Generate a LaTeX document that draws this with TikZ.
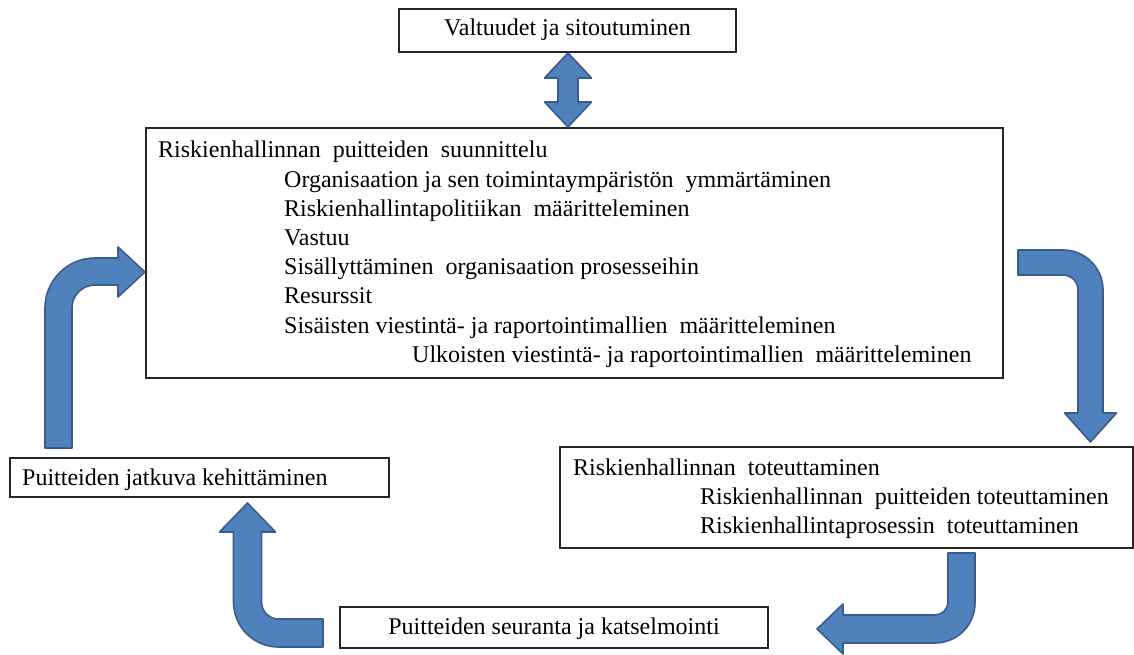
\documentclass[tikz,border=0pt]{standalone}
\usepackage{fontspec}
\setmainfont{Liberation Serif}
\begin{document}
\begin{tikzpicture}[x=1pt,y=1pt,
  box/.style={draw=black!85, line width=1.2pt, rectangle, inner sep=0pt},
  txt/.style={inner sep=0pt, anchor=base west, font=\fontsize{24}{29}\selectfont},
  ctxt/.style={inner sep=0pt, anchor=base, font=\fontsize{24}{29}\selectfont},
  blockarrow/.style={fill={rgb,255:red,79;green,129;blue,189}, draw={rgb,255:red,56;green,93;blue,138}, line width=1.6pt, line join=round}]
\useasboundingbox (0,0) rectangle (1134,655);

% boxes
\node[box, minimum width=337pt, minimum height=43pt] (auth) at (567.5,624.5) {};
\node[box, minimum width=857pt, minimum height=250pt] (design) at (574.5,402) {};
\node[box, minimum width=379pt, minimum height=39pt] (improve) at (199.5,177.5) {};
\node[box, minimum width=573pt, minimum height=101pt] (impl) at (846.5,157.5) {};
\node[box, minimum width=428pt, minimum height=41pt] (monitor) at (554,27.5) {};

% single-line labels
\node[ctxt] (authT) at (567.5,619) {Valtuudet ja sitoutuminen};
\node[txt] (improveT) at (22,169) {Puitteiden jatkuva kehittäminen};
\node[ctxt] (monitorT) at (554,20) {Puitteiden seuranta ja katselmointi};

% framework design
\node[txt] (d0) at (158,497) {Riskienhallinnan \ puitteiden \ suunnittelu};
\node[txt] (d1) at (284,467.8) {Organisaation ja sen toimintaympäristön \ ymmärtäminen};
\node[txt] (d2) at (284,438.6) {Riskienhallintapolitiikan \ määritteleminen};
\node[txt] (d3) at (284,409.4) {Vastuu};
\node[txt] (d4) at (284,380.2) {Sisällyttäminen \ organisaation prosesseihin};
\node[txt] (d5) at (284,351) {Resurssit};
\node[txt] (d6) at (284,321.8) {Sisäisten viestintä- ja raportointimallien \ määritteleminen};
\node[txt] (d7) at (412,292.6) {Ulkoisten viestintä- ja raportointimallien \ määritteleminen};

% implementation
\node[txt] (i0) at (573,179) {Riskienhallinnan \ toteuttaminen};
\node[txt] (i1) at (700,150) {Riskienhallinnan \ puitteiden toteuttaminen};
\node[txt] (i2) at (700,121) {Riskienhallintaprosessin \ toteuttaminen};

% double arrow between mandate and design
\draw[blockarrow] (568,602) -- (591.5,577) -- (578,577) -- (578,553) -- (591.5,553)
  -- (568,528) -- (544.5,553) -- (558,553) -- (558,577) -- (544.5,577) -- cycle;

% improvement -> design
\draw[blockarrow] (45,207) -- (45,347) arc(180:90:50) -- (118,397) -- (118,408)
  -- (145,383) -- (118,358) -- (118,370) -- (95,370) arc(90:180:23) -- (72,207) -- cycle;

% design -> implementation
\draw[blockarrow] (1018,405) -- (1063,405) arc(90:0:40) -- (1103,242) -- (1116.5,242)
  -- (1090.5,213) -- (1064.5,242) -- (1078,242) -- (1078,365) arc(0:90:15) -- (1018,380) -- cycle;

% implementation -> monitoring
\draw[blockarrow] (948,102) -- (975,102) -- (975,52) arc(0:-90:40) -- (843,12) -- (843,1)
  -- (817,26) -- (843,51) -- (843,40) -- (935,40) arc(-90:0:13) -- cycle;

% monitoring -> improvement
\draw[blockarrow] (323,8) -- (278.5,8) arc(270:180:45) -- (233.5,123) -- (219.5,123)
  -- (247.5,152) -- (275.5,123) -- (261.5,123) -- (261.5,53) arc(180:270:17) -- (323,36) -- cycle;
\end{tikzpicture}
\end{document}
